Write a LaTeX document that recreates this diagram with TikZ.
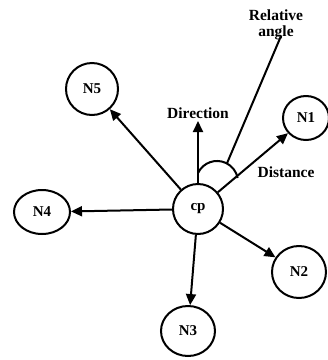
\documentclass[tikz,border=0pt]{standalone}
\usepackage{fontspec}
\setmainfont{Liberation Serif}
\usetikzlibrary{arrows.meta,shapes.geometric}
\begin{document}
\begin{tikzpicture}[x=1pt,y=-1pt,
  nd/.style={draw,line width=2pt,ellipse,inner sep=0pt,font=\bfseries\fontsize{15}{16}\selectfont},
  lbl/.style={font=\bfseries\fontsize{15.5}{16.5}\selectfont,inner sep=0pt,align=center},
  con/.style={line width=2pt},
  arr/.style={con,-{Triangle[length=11pt,width=10pt]}}]
\useasboundingbox (0,0) rectangle (328,360);
\node[nd,minimum width=50pt,minimum height=50pt] (cp) at (198,209) {cp};
\node[nd,minimum width=46pt,minimum height=44pt] (N1) at (306,118) {N1};
\node[nd,minimum width=54pt,minimum height=52pt] (N2) at (299,272) {N2};
\node[nd,minimum width=54pt,minimum height=50pt] (N3) at (188,331) {N3};
\node[nd,minimum width=56pt,minimum height=44pt] (N4) at (42,212) {N4};
\node[nd,minimum width=52pt,minimum height=52pt] (N5) at (92,89) {N5};
\node[lbl] (ra) at (276,25) {Relative\\angle};
\node[lbl] (dir) at (198,113) {Direction};
\node[lbl] (dist) at (286,172) {Distance};
\coordinate (dtip) at (198,121);
\coordinate (A) at (198,173.1);
\coordinate (B) at (226.9,163.5);
\coordinate (rtop) at (281,36);
\draw[arr] (cp) -- (N1);
\draw[arr] (cp) -- (N2);
\draw[arr] (cp) -- (N3);
\draw[arr] (cp) -- (N4);
\draw[arr] (cp) -- (N5);
\draw[arr] (cp.north) -- (dtip);
\draw[con] (A) arc[start angle=-155,end angle=-11,radius=21];
\draw[con] (B) -- (rtop);
\end{tikzpicture}
\end{document}
